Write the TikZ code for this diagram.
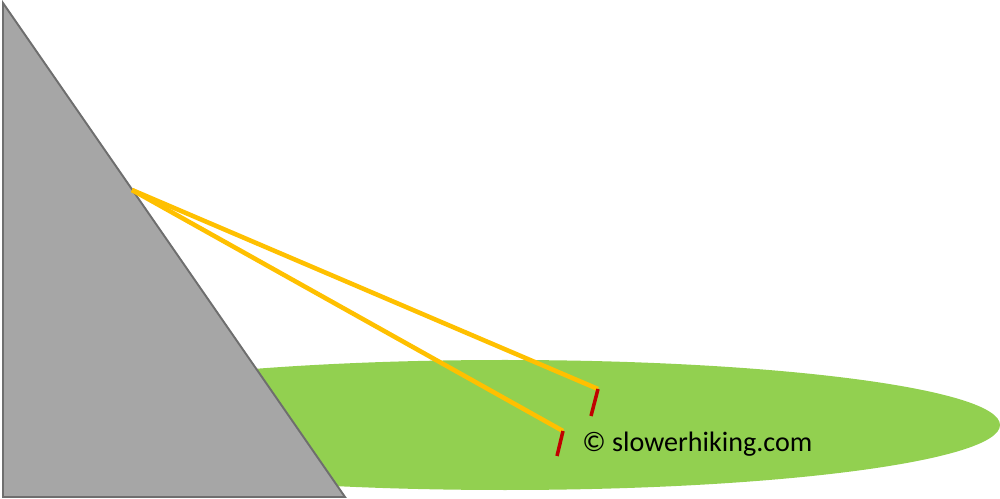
\documentclass[tikz,border=0pt]{standalone}
\usepackage{fontspec}
\setmainfont{Carlito}
\usetikzlibrary{positioning}
\definecolor{rockgray}{HTML}{A6A6A6}
\definecolor{rockedge}{HTML}{6E6E6E}
\definecolor{grass}{HTML}{92D050}
\definecolor{guyline}{HTML}{FFC000}
\definecolor{stakered}{HTML}{C00000}

\begin{document}
\begin{tikzpicture}[x=0.02cm, y=-0.02cm]
\useasboundingbox (0,0) rectangle (1000,499);
\fill[grass] (505,425) ellipse [x radius=495, y radius=65];
\filldraw[fill=rockgray, draw=rockedge, line width=1.1pt, line join=miter] (3,3) -- (345,497) -- (3,497) -- cycle;

\coordinate (anchor) at (132,190);
\coordinate (topA) at (598,389);
\coordinate (botA) at (591,416);
\coordinate (topB) at (563,431);
\coordinate (botB) at (557,456);

\draw[-, guyline, line width=2.6pt] (anchor) -- (topA);
\draw[-, guyline, line width=2.6pt] (anchor) -- (topB);
\draw[-, stakered, line width=2pt] (topA) -- (botA);
\draw[-, stakered, line width=2pt] (topB) -- (botB);

\node[anchor=base west, inner sep=0pt, font=\fontsize{16}{19}\selectfont] (credit) at (582,452) {© slowerhiking.com};
\end{tikzpicture}
\end{document}
